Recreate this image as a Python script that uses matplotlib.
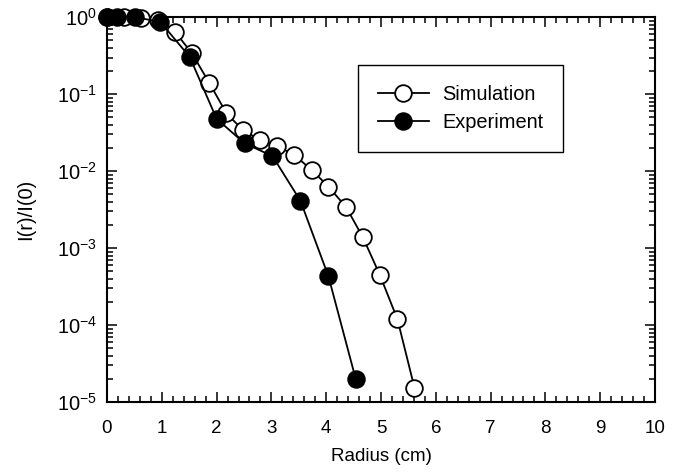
import matplotlib
matplotlib.use("Agg")
import matplotlib.pyplot as plt
from matplotlib.ticker import MultipleLocator, LogLocator, NullFormatter

plt.rcParams["font.family"] = ["Liberation Sans", "DejaVu Sans"]
plt.rcParams["mathtext.fontset"] = "custom"
plt.rcParams["mathtext.rm"] = "Liberation Sans"
plt.rcParams["mathtext.it"] = "Liberation Sans:italic"
plt.rcParams["mathtext.bf"] = "Liberation Sans:bold"
plt.rcParams["axes.unicode_minus"] = False

# Simulation (open circles)
sim_r = [0.0, 0.31, 0.62, 0.93, 1.24, 1.55, 1.87, 2.18, 2.48, 2.79,
         3.10, 3.41, 3.74, 4.04, 4.36, 4.67, 4.98, 5.30, 5.61]
sim_i = [1.0, 1.0, 0.97, 0.92, 0.65, 0.34, 0.139, 0.0565, 0.0342, 0.0254,
         0.0212, 0.0164, 0.0103, 0.0063, 0.00344, 0.00138, 0.000446, 0.000119, 1.54e-5]

# Experiment (filled circles)
exp_r = [0.0, 0.18, 0.51, 0.97, 1.51, 2.0, 2.51, 3.02, 3.53, 4.04, 4.54]
exp_i = [1.0, 1.0, 1.0, 0.877, 0.305, 0.048, 0.023, 0.0157, 0.00412, 0.000432, 1.98e-5]

fig = plt.figure(figsize=(6.82, 4.72), dpi=100)
ax = fig.add_axes([107 / 682, 1 - 402 / 472, 548 / 682, 384.7 / 472])

ax.plot(sim_r, sim_i, "-o", color="black", lw=1.3, ms=12,
        mfc="white", mec="black", mew=1.3, clip_on=False, label="Simulation", zorder=3)
ax.plot(exp_r, exp_i, "-o", color="black", lw=1.3, ms=12,
        mfc="black", mec="black", mew=1.3, clip_on=False, label="Experiment", zorder=4)

ax.set_yscale("log")
ax.set_xlim(0, 10)
ax.set_ylim(1e-5, 1)
ax.xaxis.set_major_locator(MultipleLocator(1))
ax.xaxis.set_minor_locator(MultipleLocator(0.2))
ax.yaxis.set_major_locator(LogLocator(base=10, numticks=10))
ax.yaxis.set_minor_locator(LogLocator(base=10, subs=range(2, 10), numticks=20))
ax.yaxis.set_minor_formatter(NullFormatter())

for s in ax.spines.values():
    s.set_linewidth(1.5)
ax.tick_params(which="both", direction="in", top=True, right=True, width=1.1)
ax.tick_params(which="major", length=7)
ax.tick_params(which="minor", length=4.5)
ax.tick_params(axis="x", which="major", labelsize=13.5, pad=13)
ax.tick_params(axis="y", which="major", labelsize=14.5, pad=7)

ax.set_xlabel("Radius (cm)", fontsize=13.5, labelpad=8)
ax.set_ylabel("I(r)/I(0)", fontsize=14.5, labelpad=16)

leg = ax.legend(loc="upper left", bbox_to_anchor=(0.458, 0.876), borderaxespad=0,
                fontsize=14.4, handlelength=2.55, handletextpad=0.65,
                borderpad=1.0, labelspacing=0.45, fancybox=False, framealpha=1)
leg.get_frame().set_edgecolor("black")
leg.get_frame().set_linewidth(1.0)

fig.savefig("out.png", dpi=100)
